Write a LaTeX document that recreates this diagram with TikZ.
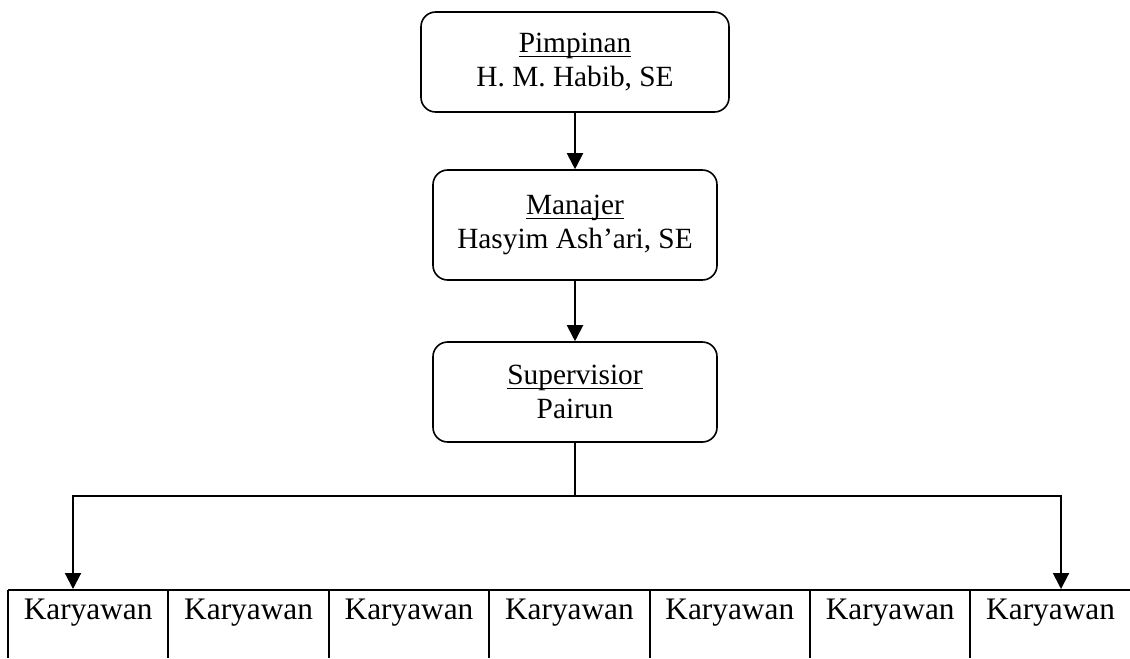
\documentclass[tikz,border=0pt]{standalone}
\usepackage{fontspec}
\setmainfont{Liberation Serif}
\usetikzlibrary{arrows.meta}
\newcommand{\garisbawah}[1]{\setbox0\hbox{#1}\rlap{\rule[-3.9pt]{\wd0}{1.2pt}}\box0}
\tikzset{jabatan/.style = {draw, line width=1.2pt, rounded corners=11pt, align=center,
                           inner sep=0pt, font=\fontsize{22}{26}\selectfont}}
\tikzset{panah/.style = {-{Triangle[width=12pt,length=12pt]}, line width=1.5pt}}
\tikzset{garis/.style = {line width=1.5pt}}
\tikzset{karyawan/.style = {anchor=base, inner sep=0pt, font=\fontsize{23.5}{26}\selectfont}}

\begin{document}
\begin{tikzpicture}[x=0.75pt, y=-0.75pt]
        \useasboundingbox (0,0) rectangle (1130,658);
        \node[jabatan, minimum width=231pt, minimum height=75pt] (pimpinan) at (575,62) {\garisbawah{Pimpinan}\\H. M. Habib, SE};
        \node[jabatan, minimum width=213pt, minimum height=82.5pt] (manajer) at (575,225) {\garisbawah{Manajer}\\Hasyim Ash’ari, SE};
        \node[jabatan, minimum width=213pt, minimum height=75pt] (supervisior) at (575,392) {\garisbawah{Supervisior}\\Pairun};
        \draw[panah] (pimpinan) -- (manajer);
        \draw[panah] (manajer) -- (supervisior);
        \coordinate (cabang) at (575,496);
        \coordinate (ujungkiri) at (73,589);
        \coordinate (ujungkanan) at (1061,589);
        \draw[line width=0.8pt] (supervisior.south) -- (cabang);
        \draw[panah] (cabang) -| (ujungkiri);
        \draw[panah] (cabang) -| (ujungkanan);
        \draw[garis] (8,590) -- (1130,590);
        \foreach \i in {0,...,6}
            \draw[garis] ({8+160.4*\i},590) -- ++(0,68);
        \foreach \i in {1,...,7}
            \node[karyawan] (karyawan\i) at ({8+160.4*(\i-0.5)},619) {Karyawan};
    \end{tikzpicture}
\end{document}
